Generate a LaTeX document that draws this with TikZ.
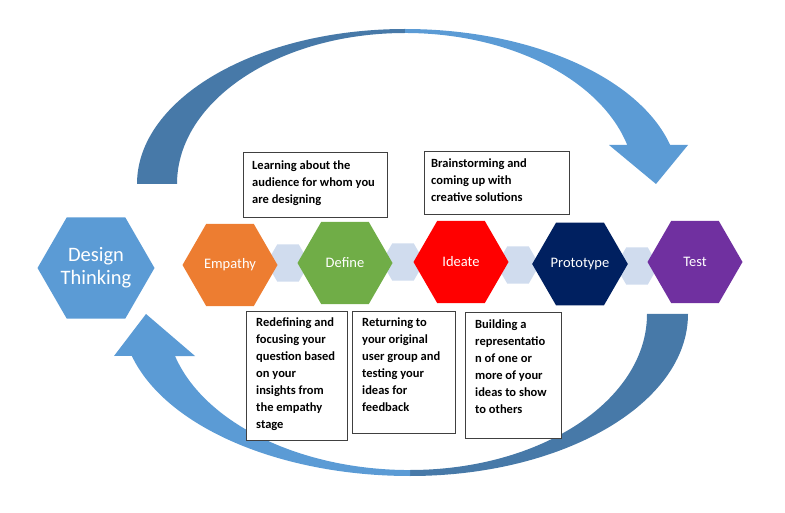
\documentclass[tikz,border=0pt]{standalone}
\usepackage{fontspec}
\setmainfont{Carlito}
\usepackage{tikz}
\usetikzlibrary{shapes,shapes.geometric,positioning}
\definecolor{dtblue}{HTML}{5B9BD5}
\definecolor{arcdark}{HTML}{4779A8}
\definecolor{emp}{HTML}{ED7D31}
\definecolor{dfn}{HTML}{70AD47}
\definecolor{idt}{HTML}{FF0000}
\definecolor{pro}{HTML}{002060}
\definecolor{tst}{HTML}{7030A0}
\definecolor{link}{HTML}{D0DCEE}
\tikzstyle{hexa}=[regular polygon, regular polygon sides=6, minimum size=95pt, inner sep=0pt, text=white, font=\fontsize{14.5}{17}\selectfont]
\tikzstyle{joint}=[regular polygon, regular polygon sides=6, fill=link, minimum size=43pt, inner sep=0pt]
\tikzstyle{card}=[draw=black!75, fill=white, line width=0.8pt, anchor=north west, inner sep=0pt]
\tikzstyle{note}=[anchor=north west, align=left, inner sep=0pt, font=\fontsize{12.5}{17}\selectfont\bfseries]

\begin{document}
\begin{tikzpicture}[x=1pt,y=-1pt]
    \useasboundingbox (0,0) rectangle (785,513);

    \fill[arcdark] (137,184) arc[start angle=180, end angle=270, x radius=268, y radius=155]
        -- (405,33) arc[start angle=270, end angle=180, x radius=228, y radius=151] -- cycle;
    \fill[dtblue] (405,29) arc[start angle=270, end angle=345.4, x radius=274, y radius=155]
        -- (688,145) -- (656,184) -- (609,145) -- (627.2,144.9)
        arc[start angle=345, end angle=270, x radius=230, y radius=151] -- cycle;
    \fill[arcdark] (688,314) arc[start angle=0, end angle=90, x radius=278, y radius=162]
        -- (410,470) arc[start angle=90, end angle=0, x radius=237, y radius=156] -- cycle;
    \fill[dtblue] (410,476) arc[start angle=90, end angle=165, x radius=288, y radius=162]
        -- (114,356) -- (146,314) -- (195,356) -- (175,356)
        arc[start angle=164.4, end angle=90, x radius=244, y radius=156] -- cycle;

    \node[joint] (j1) at (288,263) {};
    \node[joint] (j2) at (403,262) {};
    \node[joint] (j3) at (518,265) {};
    \node[joint] (j4) at (637,266) {};

    \node[hexa,fill=dtblue,minimum size=117pt,align=center,font=\fontsize{20.5}{23}\selectfont] (dt) at (96,268) {Design\\Thinking};
    \node[hexa,fill=emp] (emp) at (230,265) {Empathy};
    \node[hexa,fill=dfn] (def) at (345,263) {Define};
    \node[hexa,fill=idt] (ide) at (461,262) {Ideate};
    \node[hexa,fill=pro] (pro) at (580,264) {Prototype};
    \node[hexa,fill=tst] (tst) at (695,262) {Test};

    \node[card,minimum width=144pt,minimum height=65pt] (b1) at (243,152) {};
    \node[card,minimum width=145pt,minimum height=63pt] (b2) at (424,151) {};
    \node[card,minimum width=101pt,minimum height=129pt] (b3) at (246,311) {};
    \node[card,minimum width=103pt,minimum height=122pt] (b4) at (352,311) {};
    \node[card,minimum width=96pt,minimum height=126pt] (b5) at (465,312) {};

    \node[note] (n1) at (252,161) {Learning about the\\audience for whom you\\are designing};
    \node[note] (n2) at (431,159) {Brainstorming and\\coming up with\\creative solutions};
    \node[note] (n3) at (256,318) {Redefining and\\focusing your\\question based\\on your\\insights from\\the empathy\\stage};
    \node[note] (n4) at (362,318) {Returning to\\your original\\user group and\\testing your\\ideas for\\feedback};
    \node[note] (n5) at (475,320) {Building a\\representatio\\n of one or\\more of your\\ideas to show\\to others};

\end{tikzpicture}
\end{document}
